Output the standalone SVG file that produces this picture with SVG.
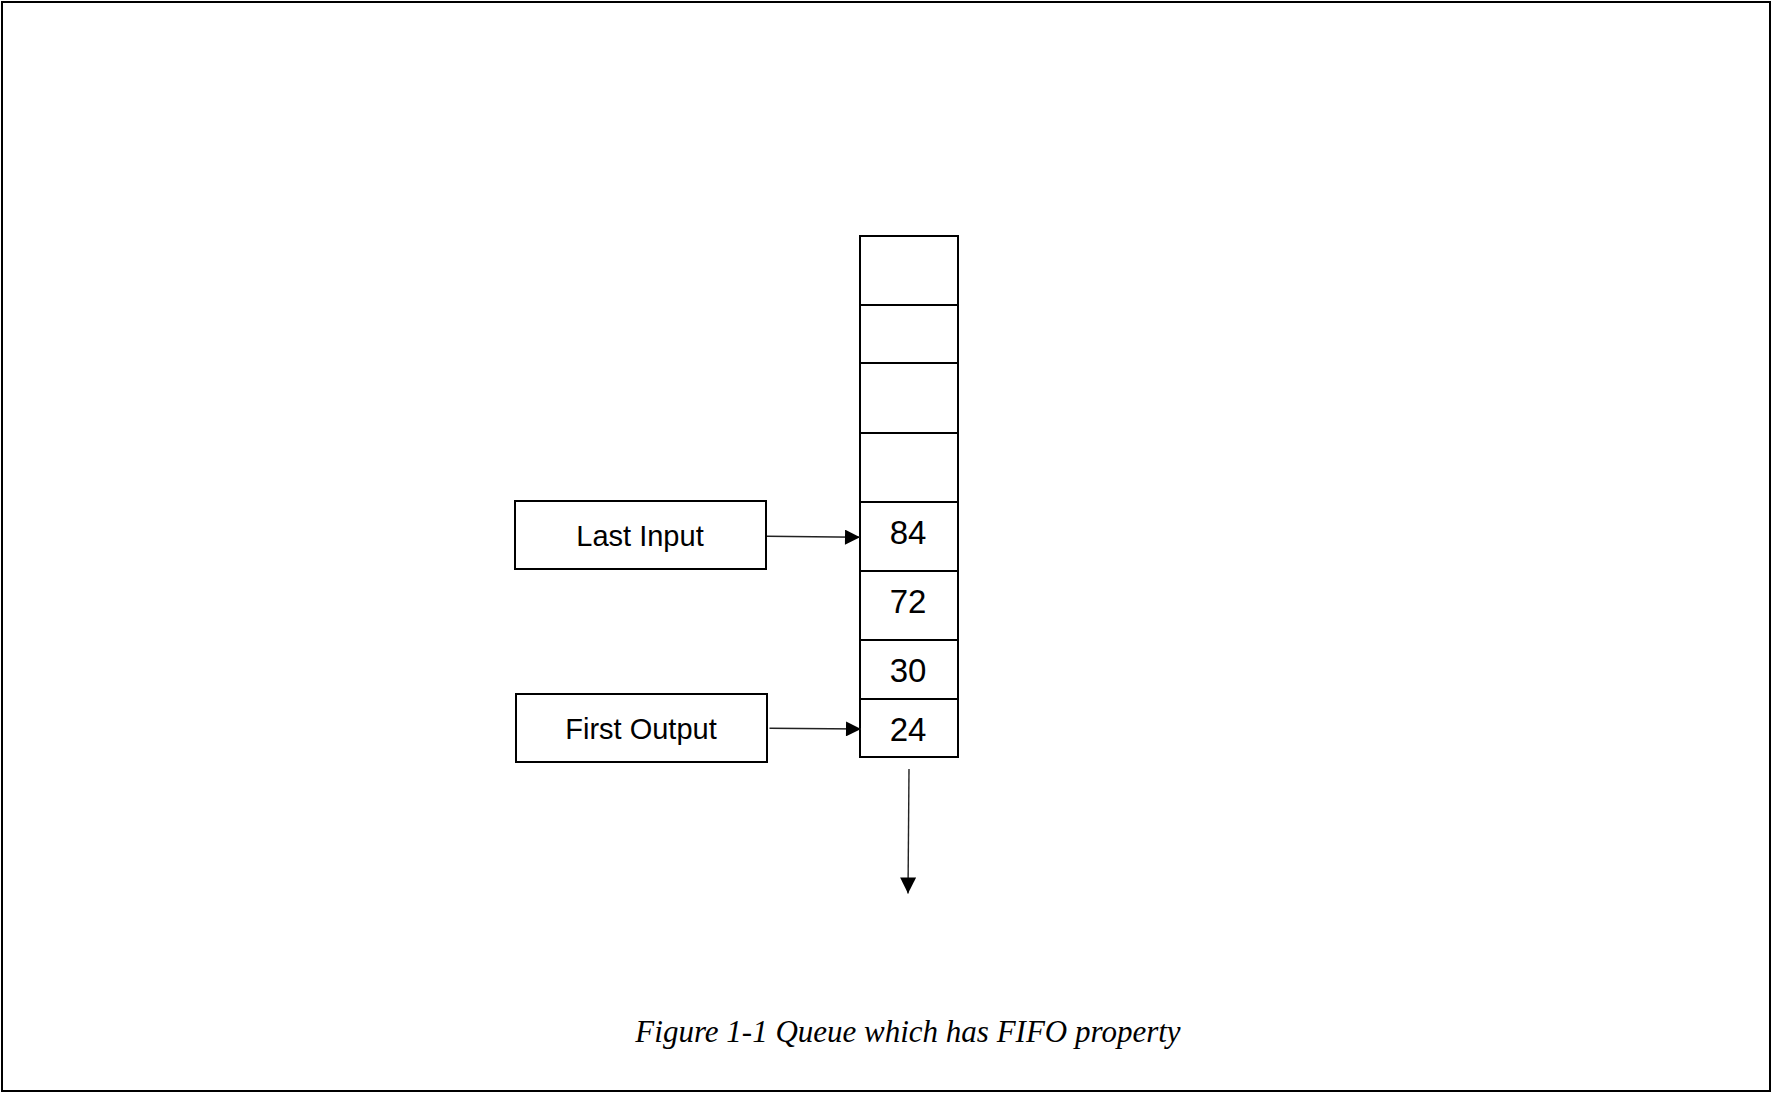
<svg xmlns="http://www.w3.org/2000/svg" width="1774" height="1096" viewBox="0 0 1774 1096">
<style>
.box{fill:#fff;stroke:#000;stroke-width:2}
.cell{fill:#fff;stroke:#000;stroke-width:2}
.lbl{font-family:"Liberation Sans",Arial,sans-serif;font-size:29px;fill:#000;text-anchor:middle}
.num{font-family:"Liberation Sans",Arial,sans-serif;font-size:33px;fill:#000;text-anchor:middle}
.cap{font-family:"Liberation Serif","Times New Roman",serif;font-size:31px;font-style:italic;fill:#000;text-anchor:middle}
.conn{stroke:#222;stroke-width:1.4;fill:none}
</style>
<defs>
<marker id="ah" viewBox="0 0 10 10" refX="10" refY="5" markerWidth="17" markerHeight="15" markerUnits="userSpaceOnUse" orient="auto">
<path d="M0,0 L10,5 L0,10 z" fill="#000"/>
</marker>
<marker id="ahBig" viewBox="0 0 10 10" refX="10" refY="5" markerWidth="17" markerHeight="16" markerUnits="userSpaceOnUse" orient="auto">
<path d="M0,0 L10,5 L0,10 z" fill="#000"/>
</marker>
</defs>
<rect x="0" y="0" width="1774" height="1096" fill="#fff"/>
<rect id="frame" x="2" y="2" width="1768" height="1089" fill="none" stroke="#000" stroke-width="2"/>
<g id="queue">
<rect class="cell" x="860" y="236" width="98" height="69"/>
<rect class="cell" x="860" y="305" width="98" height="58"/>
<rect class="cell" x="860" y="363" width="98" height="70"/>
<rect class="cell" x="860" y="433" width="98" height="69"/>
<g id="cell84"><rect class="cell" x="860" y="502" width="98" height="69"/><text class="num" x="908" y="544">84</text></g>
<g id="cell72"><rect class="cell" x="860" y="571" width="98" height="69"/><text class="num" x="908" y="612.5">72</text></g>
<g id="cell30"><rect class="cell" x="860" y="640" width="98" height="59"/><text class="num" x="908" y="682">30</text></g>
<g id="cell24"><rect class="cell" x="860" y="699" width="98" height="58"/><text class="num" x="908" y="741">24</text></g>
</g>
<g id="lastInput">
<rect class="box" x="515" y="501" width="251" height="68"/>
<text class="lbl" x="640" y="545.5">Last Input</text>
</g>
<g id="firstOutput">
<rect class="box" x="516" y="694" width="251" height="68"/>
<text class="lbl" x="641" y="739">First Output</text>
</g>
<g id="connectors">
<line class="conn" x1="767" y1="536.3" x2="860" y2="537.3" marker-end="url(#ah)"/>
<line class="conn" x1="769.5" y1="728.3" x2="861" y2="729" marker-end="url(#ah)"/>
<line class="conn" x1="909" y1="769" x2="908" y2="893.5" marker-end="url(#ahBig)"/>
</g>
<text id="caption" class="cap" x="908" y="1042">Figure 1-1 Queue which has FIFO property</text>
</svg>
